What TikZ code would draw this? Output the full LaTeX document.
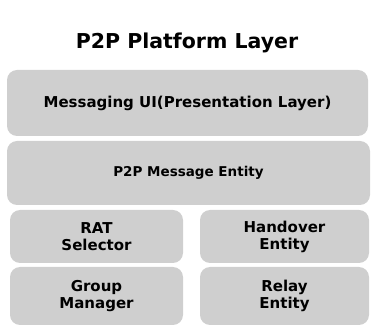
\documentclass[tikz,border=0pt]{standalone}
\usepackage{fontspec}
\setmainfont{DejaVu Sans}
\definecolor{layergray}{gray}{0.81}

\begin{document}
\begin{tikzpicture}[x=1pt,y=-1pt,
    layer/.style={rectangle, rounded corners=10pt, fill=layergray, align=center,
        font=\bfseries\fontsize{15}{17}\selectfont, inner sep=0pt},
    title/.style={font=\bfseries\fontsize{20.5}{24}\selectfont}]
  \useasboundingbox (0,0) rectangle (373,331);
  \node [title] (platform) at (187,43) {P2P Platform Layer};
  % full width layers
  \node [layer, minimum width=361pt, minimum height=66pt] (ui) at (187.5,103) {Messaging UI(Presentation Layer)};
  \node [layer, minimum width=363pt, minimum height=64pt,
         font=\bfseries\fontsize{13.5}{16}\selectfont] (msg) at (188.5,173) {P2P Message Entity};
  % half width layers
  \node [layer, minimum width=173pt, minimum height=53pt] (rat) at (96.5,236.5) {RAT\\Selector};
  \node [layer, minimum width=169pt, minimum height=53pt] (handover) at (284.5,236.5) {Handover\\Entity};
  \node [layer, minimum width=173pt, minimum height=58pt] (group) at (96.5,296) {Group\\Manager};
  \node [layer, minimum width=169pt, minimum height=58pt] (relay) at (284.5,296) {Relay\\Entity};
\end{tikzpicture}
\end{document}
